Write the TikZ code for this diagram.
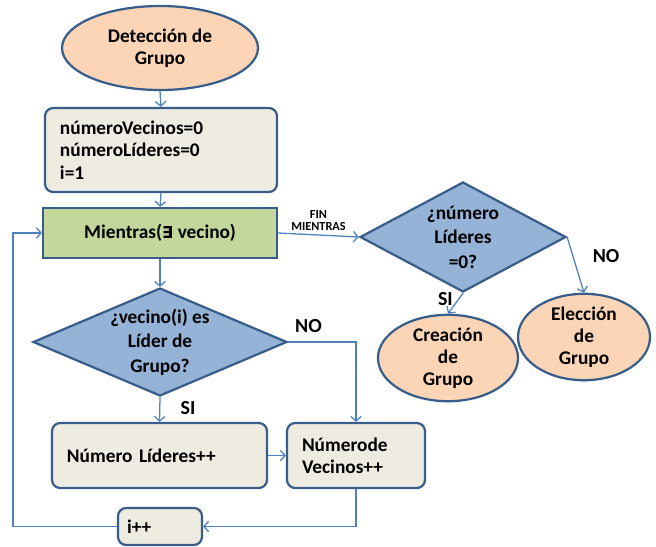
\documentclass[tikz,border=0pt]{standalone}
\usepackage{fontspec}
\setmainfont{Carlito}
\newfontfamily\symbfont{DejaVu Sans}
\usetikzlibrary{arrows.meta}
\usetikzlibrary{shapes.geometric}
\definecolor{peach}{RGB}{251,213,181}
\definecolor{boxgray}{RGB}{238,236,225}
\definecolor{boxgreen}{RGB}{195,214,155}
\definecolor{diamblue}{RGB}{149,179,215}
\definecolor{edgeblue}{RGB}{56,93,138}
\definecolor{lineblue}{RGB}{79,129,189}

\tikzset{
  shape base/.style={draw=edgeblue, line width=1.9pt, inner sep=0pt,
    font=\fontsize{16.5}{19}\selectfont\bfseries},
  endpoint/.style={shape base, ellipse, fill=peach, align=center},
  procbox/.style={shape base, rectangle, rounded corners=7pt, fill=boxgray},
  loopbox/.style={shape base, rectangle, fill=boxgreen, align=center},
  decision/.style={shape base, diamond, fill=diamblue, align=center, aspect=1.9,
    inner sep=-20pt, font=\fontsize{16.5}{21}\selectfont\bfseries},
  flow/.style={draw=lineblue, line width=1.1pt, -{Straight Barb[length=4pt,width=9pt]}},
  tag/.style={font=\fontsize{17}{19}\selectfont\bfseries}
}

\begin{document}
\begin{tikzpicture}[x=0.03cm, y=-0.03cm]
\useasboundingbox (0,0) rectangle (656,546);

%start
\node[endpoint, minimum width=5.88cm, minimum height=2.52cm] (start) at (160,48) {Detección de\\Grupo};
\node[procbox, minimum width=6.96cm, minimum height=2.52cm, text width=6.06cm, align=left] (init) at (161,150)
  {númeroVecinos=0\\númeroLíderes=0\\i=1};
\node[loopbox, minimum width=7.02cm, minimum height=1.5cm] (loop) at (160,233) {Mientras({\symbfont\fontsize{14}{16}\selectfont ∃} vecino)};

%inner decision
\node[decision, minimum width=7.62cm, minimum height=3.24cm] (leader) at (160,342) {¿vecino(i) es\\Líder de\\Grupo?};
\node[procbox, minimum width=6.45cm, minimum height=1.95cm, text width=5.55cm, align=left] (addlead) at (159.5,455.5) {Número Líderes++};
\node[procbox, minimum width=4.14cm, minimum height=1.95cm, text width=3.24cm, align=left] (addvec) at (356,455.5) {Númerode\\Vecinos++};
\node[procbox, minimum width=2.52cm, minimum height=1.11cm, text width=1.98cm, align=left] (inc) at (160,526.5) {i++};

%end of loop
\node[decision, minimum width=6.18cm, minimum height=3.3cm] (zero) at (463,237) {¿número\\Líderes\\=0?};
\node[endpoint, minimum width=4.2cm, minimum height=2.34cm] (create) at (448,358) {Creación\\de\\Grupo};
\node[endpoint, minimum width=3.96cm, minimum height=2.4cm] (elect) at (584,337) {Elección\\de\\Grupo};

%connectors
\draw[flow] (start.south) -- (init.north);
\draw[flow] (init.south) -- (loop.north);
\draw[flow] (loop.south) -- (leader.north);
\draw[flow] (leader.south) -- (addlead.north) node[tag, pos=0.45, right=14pt] {SI};
\draw[flow] (leader.east) -| (addvec.north) node[tag, pos=0.15, above=4pt] {NO};
\draw[flow] (addlead.east) -- (addvec.west);
\draw[flow] (addvec.south) |- (inc.east);
\draw[flow] (inc.west) -- (13,526.5) |- (loop.west);

\draw[flow] (loop.east) -- (zero.west)
  node[midway, above=0pt, align=center, font=\fontsize{10.5}{10.5}\selectfont\bfseries] {FIN\\MIENTRAS};
\draw[flow] (zero.south) -- (create.north) node[tag, pos=0.3, left=1pt] {SI};
\draw[flow] (zero.east) -- (elect.north) node[tag, pos=0.35, right=13pt] {NO};
\end{tikzpicture}
\end{document}
